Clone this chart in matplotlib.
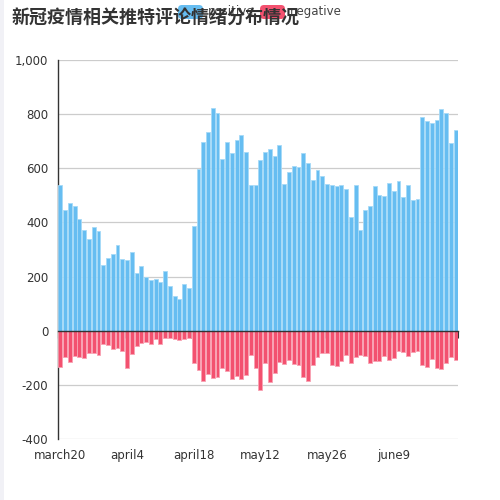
import matplotlib
matplotlib.use("Agg")
import matplotlib.pyplot as plt
import matplotlib.transforms as mtransforms
from matplotlib.patches import FancyBboxPatch, Rectangle
from matplotlib.ticker import FuncFormatter, MultipleLocator
import numpy as np

title = "新冠疫情相关推特评论情绪分布情况"
series_names = ["positive", "negative"]

positive = [537, 445, 473, 461, 412, 372, 339, 383, 370, 243, 269, 284, 316, 264,
            261, 290, 215, 240, 198, 187, 192, 181, 221, 166, 129, 117, 173, 157,
            387, 597, 696, 735, 822, 804, 633, 696, 657, 704, 723, 662, 538, 538,
            630, 662, 670, 644, 686, 543, 585, 608, 603, 655, 618, 557, 592, 571,
            541, 537, 535, 540, 522, 420, 538, 371, 446, 462, 535, 500, 497, 546,
            515, 553, 494, 538, 482, 488, 790, 774, 768, 777, 819, 806, 693, 740]
negative = [-135, -98, -116, -92, -98, -102, -82, -81, -91, -48, -52, -68, -63, -76,
            -138, -86, -58, -45, -43, -50, -32, -50, -26, -28, -32, -34, -32, -28,
            -119, -145, -184, -160, -176, -171, -138, -147, -179, -166, -178, -163, -91, -136,
            -220, -118, -189, -155, -114, -124, -109, -122, -127, -170, -187, -127, -97, -82,
            -81, -127, -130, -112, -88, -118, -98, -91, -92, -118, -113, -111, -93, -107,
            -101, -74, -79, -93, -77, -75, -128, -135, -104, -138, -141, -118, -96, -109]
tick_labels = ["march20", "april4", "april18", "may12", "may26", "june9"]
tick_every = 14

blue = "#66bdf1"
blue_edge = "#a6daf8"
red = "#f3516f"
red_edge = "#f8a2b3"
text_col = "#333333"

plt.rcParams['font.family'] = ['Noto Sans CJK SC', 'DejaVu Sans']

fig = plt.figure(figsize=(5, 5), dpi=100)
fig.patch.set_facecolor("white")
fig.patches.append(Rectangle((0, 0), 4 / 500, 1, transform=fig.transFigure,
                             facecolor="#f1f1f6", edgecolor="none", zorder=0))

ax = fig.add_axes([58 / 500, 61 / 500, 400 / 500, 379 / 500])
x = np.arange(len(positive))
ax.bar(x, positive, width=0.82, color=blue, edgecolor=blue_edge, linewidth=0.6, zorder=3)
ax.bar(x, negative, width=0.82, color=red, edgecolor=red_edge, linewidth=0.6, zorder=3)

ax.set_xlim(-0.5, len(positive) - 0.5)
ax.set_ylim(-400, 1000)
ax.yaxis.set_major_locator(MultipleLocator(200))
ax.yaxis.set_major_formatter(FuncFormatter(lambda v, p: f"{int(v):,}"))
ax.grid(axis="y", color="#cccccc", linewidth=0.9, zorder=0)
ax.set_axisbelow(True)

for s in ["top", "right"]:
    ax.spines[s].set_visible(False)
ax.spines["left"].set_color("#333333")
ax.spines["left"].set_linewidth(1)
ax.spines["bottom"].set_position(("data", 0))
ax.spines["bottom"].set_color("#333333")
ax.spines["bottom"].set_linewidth(1)
ax.spines["bottom"].set_zorder(4)

tick_pos = np.arange(0, len(positive) + 1, tick_every) - 0.5
ax.set_xticks(tick_pos)
ax.tick_params(axis="x", direction="out", length=5, color="#333333", labelbottom=False)
ax.tick_params(axis="y", length=0, labelsize=8.5, labelcolor=text_col, pad=7)
for lab in ax.get_yticklabels():
    lab.set_family("DejaVu Sans")

trans = mtransforms.blended_transform_factory(ax.transData, ax.transAxes)
for i, lab in enumerate(tick_labels):
    ax.text(i * tick_every, -0.026, lab, transform=trans, ha="center", va="top",
            fontsize=8.5, color=text_col, family="DejaVu Sans")

# legend (drawn beneath title, as in reference)
leg_items = [(178, blue, series_names[0]), (260, red, series_names[1])]
for lx, col, name in leg_items:
    fig.patches.append(FancyBboxPatch((lx / 500, 1 - 19 / 500), 25 / 500, 14 / 500,
                                      boxstyle="round,pad=0,rounding_size=0.008",
                                      transform=fig.transFigure, facecolor=col,
                                      edgecolor="none", zorder=1))
    fig.text((lx + 30) / 500, 1 - 12 / 500, name, ha="left", va="center",
             fontsize=8.5, color="#444444", family="DejaVu Sans", zorder=1)

fig.text(12 / 500, 1 - 17 / 500, title, ha="left", va="center", fontsize=13,
         fontweight="bold", color=text_col, zorder=5)

fig.savefig("out.png", dpi=100, facecolor="white")
